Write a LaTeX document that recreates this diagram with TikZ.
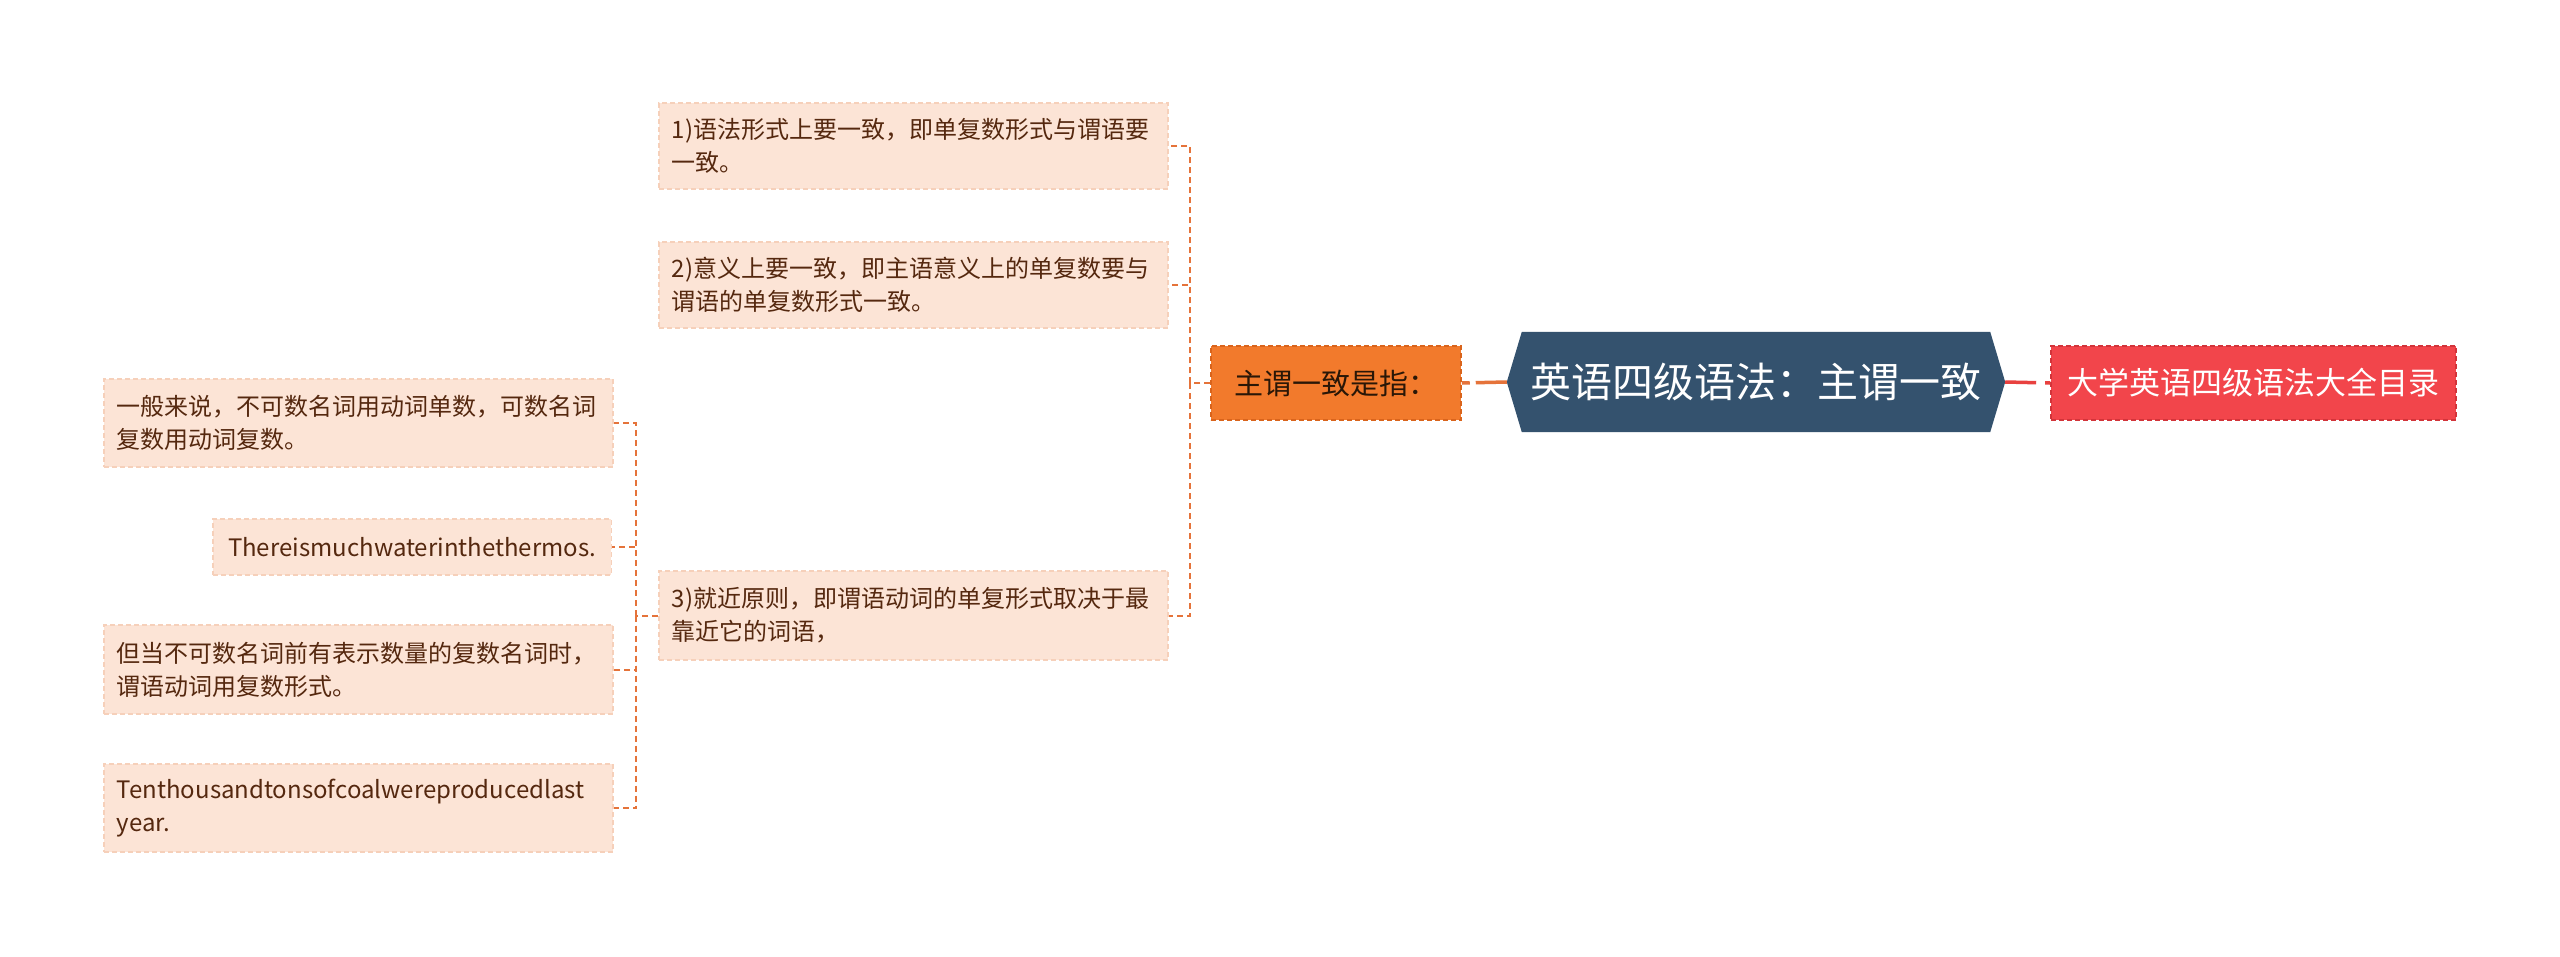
\documentclass[tikz,border=0pt]{standalone}
\usepackage{fontspec}
\setmainfont{Noto Sans CJK SC}
\usetikzlibrary{calc}
\definecolor{cfill}{HTML}{FCE4D6}
\definecolor{cborder}{HTML}{F6D0BA}
\definecolor{ctext}{HTML}{55280F}
\definecolor{conn}{HTML}{E5733A}
\definecolor{ofill}{HTML}{F27A2C}
\definecolor{oborder}{HTML}{D9641C}
\definecolor{otext}{HTML}{2A1707}
\definecolor{rootfill}{HTML}{34526E}
\definecolor{rfill}{HTML}{F2454B}
\definecolor{rborder}{HTML}{D2343A}
\definecolor{rconn}{HTML}{E8413F}
\pgfdeclarelayer{bg}
\pgfsetlayers{bg,main}
\begin{document}
\begin{tikzpicture}[x=1pt,y=-1pt,
  childbox/.style={fill=cfill, draw=cborder, line width=1.5pt, dash pattern=on 5pt off 3pt,
    text=ctext, font=\fontsize{24}{33}\selectfont, align=left,
    inner xsep=13pt, inner ysep=0pt},
  wbox/.style={childbox, anchor=west, text width=483pt},
  orangebox/.style={fill=ofill, draw=oborder, line width=1.5pt, dash pattern=on 5pt off 3pt,
    text=otext, font=\fontsize{29}{34}\selectfont, minimum width=250pt, minimum height=74pt,
    inner sep=0pt},
  redbox/.style={fill=rfill, draw=rborder, line width=1.5pt, dash pattern=on 5pt off 3pt,
    text=white, font=\fontsize{31}{36}\selectfont, minimum width=405pt, minimum height=74pt,
    inner sep=0pt},
  rootbox/.style={text=white, font=\fontsize{41}{48}\selectfont, minimum width=498pt,
    minimum height=100pt, inner sep=0pt},
  thin conn/.style={draw=conn, line width=2pt, dash pattern=on 6pt off 4pt},
]
\useasboundingbox (0,0) rectangle (2560,956);

% main nodes
\node[rootbox] (root) at (1756,382) {英语四级语法：主谓一致};
\begin{pgfonlayer}{bg}
\fill[white] (0,0) rectangle (2560,956);
\fill[rootfill] (root.west) -- ($(root.north west)+(15,0)$) -- ($(root.north east)+(-15,0)$)
  -- (root.east) -- ($(root.south east)+(-15,0)$) -- ($(root.south west)+(15,0)$) -- cycle;
\end{pgfonlayer}
\node[orangebox] (sub) at (1336,383) {主谓一致是指：};
\node[redbox] (red) at (2253.5,383) {大学英语四级语法大全目录};

% children of sub
\node[wbox, minimum height=86pt] (c1) at (658,146) {1)语法形式上要一致，即单复数形式与谓语要\\一致。};
\node[wbox, minimum height=86pt] (c2) at (658,285) {2)意义上要一致，即主语意义上的单复数要与\\谓语的单复数形式一致。};
\node[wbox, minimum height=89pt] (c3) at (658,615.5) {3)就近原则，即谓语动词的单复形式取决于最\\靠近它的词语，};

% children of c3
\node[wbox, minimum height=88pt] (l1) at (103,423) {一般来说，不可数名词用动词单数，可数名词\\复数用动词复数。};
\node[childbox, anchor=east, minimum height=56pt, inner xsep=15pt] (l2) at (612,547) {Thereismuchwaterinthethermos.};
\node[wbox, minimum height=89pt] (l3) at (103,669.5) {但当不可数名词前有表示数量的复数名词时，\\谓语动词用复数形式。};
\node[wbox, minimum height=88pt] (l4) at (103,808) {Tenthousandtonsofcoalwereproducedlast\\year.};

% connectors
\draw[conn, line width=3.5pt, dash pattern=on 8pt off 6pt on 200pt off 1pt] (sub.east) -- (root.west);
\draw[rconn, line width=3.5pt, dash pattern=on 31pt off 9pt on 200pt off 1pt] (root.east) -- (red.west);

\coordinate (j1) at (1190,383);
\draw[thin conn] (sub.west) -- (j1);
\draw[thin conn] (j1) |- (c1.east);
\draw[thin conn] (j1) |- (c2.east);
\draw[thin conn] (j1) |- (c3.east);

\coordinate (j2) at (636,615.5);
\draw[thin conn] (c3.west) -- (j2);
\draw[thin conn] (j2) |- (l1.east);
\draw[thin conn] (j2) |- (l2.east);
\draw[thin conn] (j2) |- (l3.east);
\draw[thin conn] (j2) |- (l4.east);
\end{tikzpicture}
\end{document}
